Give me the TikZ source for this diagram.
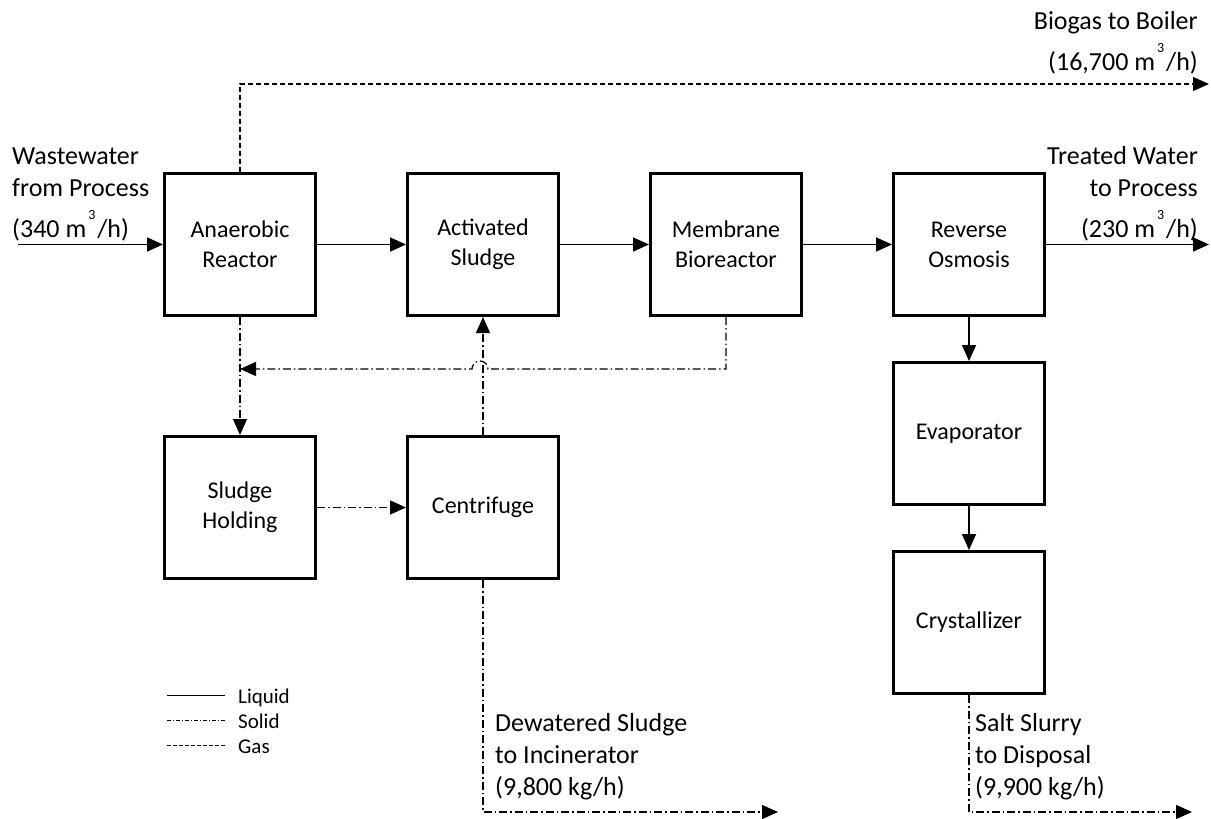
\documentclass[tikz,border=0pt]{standalone}
\usepackage{fontspec}
\setmainfont{Carlito}
\usetikzlibrary{arrows.meta, positioning}

\newcommand{\cubed}{\kern2pt\raisebox{18pt}{\fontsize{14}{14}\selectfont 3}\kern2pt}

\begin{document}
\begin{tikzpicture}[
  x=1pt, y=-1pt,
  every node/.style={inner sep=0pt},
  node distance=89pt,
  unit/.style={rectangle, draw, line width=3pt, minimum width=151pt, minimum height=142pt,
               font=\fontsize{24}{30}\selectfont, align=center},
  stream/.style={font=\fontsize{26}{32}\selectfont},
  key/.style={font=\fontsize{21}{25}\selectfont, anchor=base west},
  liquid/.style={draw, line width=1.6pt, -{Triangle[length=16pt, width=14pt]}},
  sludge/.style={draw, line width=1.2pt, dash pattern=on 8pt off 3pt on 1.5pt off 3pt,
                 -{Triangle[length=16pt, width=14pt]}},
  gas/.style={draw, line width=1.2pt, dash pattern=on 5pt off 3pt,
              -{Triangle[length=16pt, width=14pt]}},
]
  \fill[white] (0,0) rectangle (1211,819);
  \useasboundingbox (0,0) rectangle (1211,819);

  % treatment train
  \node[unit] (ana) at (240,244.5) {Anaerobic\\Reactor};
  \node[unit, right=of ana] (act) {Activated\\Sludge};
  \node[unit, right=of act] (mbr) {Membrane\\Bioreactor};
  \node[unit, right=of mbr] (ro) {Reverse\\Osmosis};
  \node[unit, below=118pt of ana] (hold) {Sludge\\Holding};
  \node[unit, right=of hold] (cent) {Centrifuge};
  \node[unit, below=44pt of ro] (evap) {Evaporator};
  \node[unit, below=44pt of evap] (cryst) {Crystallizer};

  % stream labels (base = last line)
  \node[stream, anchor=base west, align=left] (feedlbl) at (12,237)
    {Wastewater\\from Process\\[9pt](340 m\cubed/h)};
  \node[stream, anchor=base east, align=right] (biogaslbl) at (1198,70)
    {Biogas to Boiler\\[9pt](16,700 m\cubed/h)};
  \node[stream, anchor=base east, align=right] (waterlbl) at (1198,237)
    {Treated Water\\to Process\\[9pt](230 m\cubed/h)};
  \node[stream, anchor=base west, align=left] (cakelbl) at (495,795)
    {Dewatered Sludge\\to Incinerator\\(9,800 kg/h)};
  \node[stream, anchor=base west, align=left] (saltlbl) at (975,795)
    {Salt Slurry\\to Disposal\\(9,900 kg/h)};

  \coordinate (feed) at (18,244.5);
  \coordinate (water) at (1209,244.5);
  \coordinate (biogas) at (1209,84);
  \coordinate (merge) at (240,369);
  \coordinate (cake) at (778,812);
  \coordinate (salt) at (1192,812);

  % liquid
  \draw[liquid] (feed) -- (ana);
  \draw[liquid] (ana) -- (act);
  \draw[liquid] (act) -- (mbr);
  \draw[liquid] (mbr) -- (ro);
  \draw[liquid] (ro) -- (water);
  \draw[liquid] (ro) -- (evap);
  \draw[liquid] (evap) -- (cryst);

  % gas
  \draw[gas] (ana.north) |- (biogas);

  % solids
  \draw[sludge] (ana) -- (hold);
  \draw[sludge] (mbr.south) |- (488,369) arc[start angle=0, end angle=180, radius=8pt] -- (merge);
  \draw[sludge] (cent) -- (act);
  \draw[sludge] (hold) -- (cent);
  \draw[sludge] (cent.south) |- (cake);
  \draw[sludge] (cryst.south) |- (salt);

  % key
  \node[key] (kliquid) at (238,703) {Liquid};
  \node[key] (ksolid) at (238,728) {Solid};
  \node[key] (kgas) at (238,753) {Gas};
  \draw[line width=1pt] (167,695) -- (225,695);
  \draw[line width=0.8pt, dash pattern=on 4pt off 2pt on 1pt off 2pt] (167,720) -- (225,720);
  \draw[line width=0.8pt, dash pattern=on 4pt off 2pt] (167,745) -- (225,745);
\end{tikzpicture}
\end{document}
